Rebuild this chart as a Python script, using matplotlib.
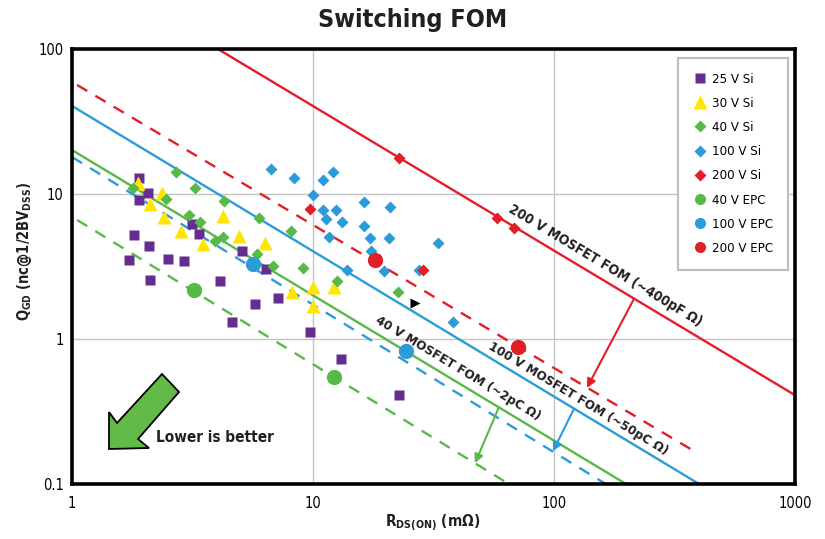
import matplotlib
matplotlib.use("Agg")
import matplotlib.pyplot as plt
from matplotlib.lines import Line2D
from matplotlib.patches import Polygon

plt.rcParams['font.family'] = ['DejaVu Sans Condensed', 'DejaVu Sans']
plt.rcParams['font.stretch'] = 'condensed'
plt.rcParams['mathtext.fontset'] = 'custom'
plt.rcParams['mathtext.rm'] = 'DejaVu Sans'
plt.rcParams['mathtext.bf'] = 'DejaVu Sans:bold'

# device data: R_DS(on) in mOhm, Q_GD in nC
si25_r = [1.90, 2.07, 1.90, 3.15, 3.37, 1.81, 2.09, 1.72, 2.50, 2.92, 2.11, 5.08, 6.38, 4.11,
          5.75, 4.61, 7.16, 9.72, 13.1, 22.7]
si25_q = [12.9, 10.2, 9.1, 6.2, 5.3, 5.2, 4.4, 3.5, 3.56, 3.45, 2.55, 4.04, 3.04, 2.51,
          1.74, 1.31, 1.92, 1.12, 0.73, 0.41]
si30_r = [1.88, 2.36, 2.11, 2.41, 2.83, 3.50, 4.23, 4.93, 6.32, 8.18, 10.0, 10.0, 12.2]
si30_q = [11.9, 10.2, 8.5, 6.9, 5.6, 4.5, 7.05, 5.1, 4.6, 2.11, 2.28, 1.69, 2.28]
si40_r = [2.70, 1.79, 3.24, 2.45, 4.27, 3.06, 3.40, 5.97, 8.1, 4.23, 3.92, 5.86, 6.82, 9.09,
          12.6, 22.5]
si40_q = [14.2, 11.0, 11.0, 9.2, 8.95, 7.2, 6.4, 6.8, 5.6, 5.05, 4.74, 3.86, 3.19, 3.09,
          2.51, 2.11]
si100_r = [6.69, 8.34, 11.0, 12.1, 10.0, 16.3, 20.9, 11.0, 12.5, 11.3, 13.2, 16.3, 17.2, 20.7,
           11.7, 33.0, 17.4, 19.7, 27.5, 13.8, 38.1]
si100_q = [14.9, 12.9, 12.5, 14.2, 9.84, 8.81, 8.14, 7.76, 7.76, 6.72, 6.41, 6.02, 4.97, 4.97,
           5.05, 4.59, 4.04, 2.94, 2.99, 2.99, 1.31]
si200_r = [9.72, 22.7, 58.0, 68.2, 28.6]
si200_q = [7.88, 17.7, 6.83, 5.83, 2.99]
epc40_r = [3.21, 12.2]
epc40_q = [2.18, 0.547]
epc100_r = [5.64, 24.3]
epc100_q = [3.29, 0.826]
epc200_r = [18.1, 70.9]
epc200_q = [3.51, 0.88]
marker_r = [26.5]
marker_q = [1.77]

# FOM lines (end points)
red_r, red_q = [4.03, 1000], [100, 0.41]
red_d_r, red_d_q = [1.05, 392], [56.5, 0.164]
blue_r, blue_q = [1, 400], [40.5, 0.1]
blue_d_r, blue_d_q = [1, 164], [18.0, 0.1]
green_r, green_q = [1, 199], [20.1, 0.1]
green_d_r, green_d_q = [1.05, 65], [6.62, 0.1]

purple = '#652D90'
yellow = '#FFE600'
green = '#57B947'
blue = '#2B9BD9'
red = '#E21E26'
dark = '#231F20'

fig = plt.figure(figsize=(8.25, 5.39), dpi=100)
ax = fig.add_axes([72 / 825, 1 - 484 / 539, 723 / 825, 435 / 539])
ax.set_xscale('log')
ax.set_yscale('log')
ax.set_xlim(1, 1000)
ax.set_ylim(0.1, 100)
ax.grid(True, which='major', color='#C4C4C4', lw=1.0)
ax.set_axisbelow(True)
for s in ax.spines.values():
    s.set_linewidth(2.6)
    s.set_color('black')
ax.tick_params(which='both', length=0)
ax.tick_params(axis='x', pad=9, labelsize=10.5)
ax.tick_params(axis='y', pad=6, labelsize=10.5)
ax.set_xticks([1, 10, 100, 1000])
ax.set_xticklabels(['1', '10', '100', '1000'])
ax.set_yticks([0.1, 1, 10, 100])
ax.set_yticklabels(['0.1', '1', '10', '100'])
ax.minorticks_off()

lw = 1.7
ax.plot(red_r, red_q, color=red, lw=lw)
ax.plot(red_d_r, red_d_q, color=red, lw=lw, dashes=(5, 4))
ax.plot(blue_r, blue_q, color=blue, lw=lw)
ax.plot(blue_d_r, blue_d_q, color=blue, lw=lw, dashes=(5, 4))
ax.plot(green_r, green_q, color=green, lw=lw)
ax.plot(green_d_r, green_d_q, color=green, lw=lw, dashes=(5, 4))

ax.plot(si25_r, si25_q, 's', color=purple, ms=7.5, mec='none')
ax.plot(si30_r, si30_q, '^', color=yellow, ms=10.5, mec='none')
ax.plot(si40_r, si40_q, 'D', color=green, ms=6.3, mec='none')
ax.plot(si100_r, si100_q, 'D', color=blue, ms=6.3, mec='none')
ax.plot(si200_r, si200_q, 'D', color=red, ms=6.3, mec='none')
ax.plot(epc40_r, epc40_q, 'o', color=green, ms=11, mec='none')
ax.plot(epc100_r, epc100_q, 'o', color=blue, ms=11, mec='none')
ax.plot(epc200_r, epc200_q, 'o', color=red, ms=11, mec='none')
ax.plot(marker_r, marker_q, '>', color='black', ms=7, mec='none')

# arrows between solid and dashed FOM lines
arrows = [((215, 1.9), (137, 0.46), red),
          ((121, 0.33), (99, 0.168), blue),
          ((59, 0.337), (47, 0.139), green)]
for start, end, c in arrows:
    ax.annotate('', xy=end, xytext=start,
                arrowprops=dict(arrowstyle='-|>', color=c, lw=1.5,
                                mutation_scale=13, shrinkA=0, shrinkB=0))

ang = -31.0
ax.text(164, 3.19, '200 V MOSFET FOM (~400pF Ω)', rotation=ang, rotation_mode='anchor',
        ha='center', va='center', fontsize=10, fontweight='bold', color=dark)
ax.text(126, 0.39, '100 V MOSFET FOM (~50pC Ω)', rotation=ang, rotation_mode='anchor',
        ha='center', va='center', fontsize=9.6, fontweight='bold', color=dark)
ax.text(40, 0.63, '40 V MOSFET FOM (~2pC Ω)', rotation=ang, rotation_mode='anchor',
        ha='center', va='center', fontsize=9.6, fontweight='bold', color=dark)

# "Lower is better" arrow
pts = [(109, 449), (109, 412), (117, 423), (162, 374), (179, 392), (138, 439), (149, 448)]
arrow = Polygon([(x / 825, 1 - y / 539) for x, y in pts], closed=True,
                transform=fig.transFigure, facecolor='#62BB46', edgecolor='black', lw=1.3)
fig.patches.append(arrow)
fig.text(156 / 825, 1 - 438 / 539, 'Lower is better', ha='left', va='center',
         fontsize=11, fontweight='bold', color=dark)

handles = [
    Line2D([], [], ls='none', marker='s', color=purple, ms=7.5, mec='none'),
    Line2D([], [], ls='none', marker='^', color=yellow, ms=10.5, mec='none'),
    Line2D([], [], ls='none', marker='D', color=green, ms=6.3, mec='none'),
    Line2D([], [], ls='none', marker='D', color=blue, ms=6.3, mec='none'),
    Line2D([], [], ls='none', marker='D', color=red, ms=6.3, mec='none'),
    Line2D([], [], ls='none', marker='o', color=green, ms=8, mec='none'),
    Line2D([], [], ls='none', marker='o', color=blue, ms=8, mec='none'),
    Line2D([], [], ls='none', marker='o', color=red, ms=8, mec='none'),
]
labels = ['25 V Si', '30 V Si', '40 V Si', '100 V Si', '200 V Si',
          '40 V EPC', '100 V EPC', '200 V EPC']
leg = ax.legend(handles, labels, loc='upper right', bbox_to_anchor=(788 / 825, 1 - 58 / 539),
                bbox_transform=fig.transFigure, borderaxespad=0, fontsize=9.5,
                labelspacing=0.85, handlelength=1.1, handletextpad=0.4, borderpad=1.1,
                fancybox=False, framealpha=1)
leg.get_frame().set_edgecolor('#BDBDBD')
leg.get_frame().set_linewidth(1.5)

fig.text(413 / 825, 1 - 20 / 539, 'Switching FOM', ha='center', va='center',
         fontsize=18, fontweight='bold', color=dark)
fig.text(24 / 825, 1 - 251 / 539, r'$\mathbf{Q_{GD}}$ (nc@1/2BV$_{\mathbf{DSS}}$)',
         rotation=90, ha='center', va='center', fontsize=10.5, fontweight='bold', color=dark)
fig.text(433 / 825, 1 - 523 / 539, r'$\mathbf{R_{DS(ON)}}$ (mΩ)',
         ha='center', va='center', fontsize=11, fontweight='bold', color=dark)

fig.savefig('out.png', dpi=100)
